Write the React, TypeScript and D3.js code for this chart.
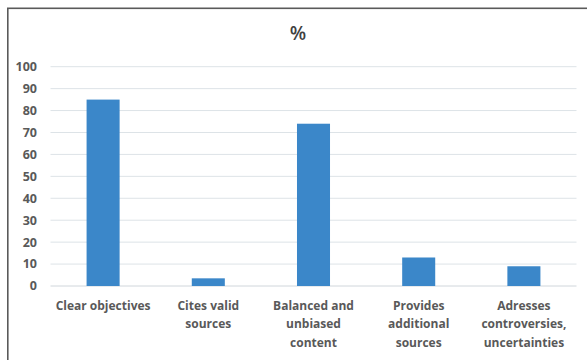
import React from "react";
import * as d3 from "d3";

const categories: string[][] = [
  ["Clear objectives"],
  ["Cites valid", "sources"],
  ["Balanced and", "unbiased", "content"],
  ["Provides", "additional", "sources"],
  ["Adresses", "controversies,", "uncertainties"],
];
const values: number[] = [85, 3.5, 74, 13, 9];
const yTicks: number[] = [0, 10, 20, 30, 40, 50, 60, 70, 80, 90, 100];
const title = "%";

const W = 587;
const H = 360;
const left = 50.5;
const right = 576.5;
const top = 66.7;
const bottom = 286;
const font = "'Open Sans', 'Liberation Sans', sans-serif";
const textColor = "#595959";

export default function App() {
  const x = d3
    .scaleBand<number>()
    .domain(values.map((_, i) => i))
    .range([left, right])
    .paddingInner(0.686)
    .paddingOuter(0.343);
  const y = d3.scaleLinear().domain([0, 100]).range([bottom, top]);

  return (
    <svg
      width={W}
      height={H}
      style={{ position: "absolute", left: 0, top: 0, background: "#fff" }}
    >
      <rect x={0} y={0} width={W} height={H} fill="#fff" />
      <rect
        x={7.8}
        y={8.3}
        width={W + 10}
        height={H + 10}
        fill="none"
        stroke="#5a5a5a"
        strokeWidth={1.6}
      />
      <text
        x={298}
        y={40}
        textAnchor="middle"
        fontFamily={font}
        fontSize={19}
        fontWeight={600}
        fill="#404040"
      >
        {title}
      </text>
      {yTicks.map((t) => (
        <g key={t}>
          <line
            x1={left}
            x2={right}
            y1={y(t)}
            y2={y(t)}
            stroke={t === 0 ? "#d0d6db" : "#dde3e7"}
            strokeWidth={1}
          />
          <text
            x={37}
            y={y(t)}
            dy="0.35em"
            textAnchor="end"
            fontFamily={font}
            fontSize={12.5}
            fontWeight={700}
            fill={textColor}
          >
            {t}
          </text>
        </g>
      ))}
      {values.map((v, i) => (
        <rect
          key={i}
          x={x(i)}
          y={y(v)}
          width={x.bandwidth()}
          height={y(0) - y(v)}
          fill="#3b87c9"
        />
      ))}
      {categories.map((lines, i) => (
        <text
          key={i}
          x={(x(i) as number) + x.bandwidth() / 2}
          y={310}
          textAnchor="middle"
          fontFamily={font}
          fontSize={12}
          fontWeight={700}
          fill={textColor}
        >
          {lines.map((l, j) => (
            <tspan key={j} x={(x(i) as number) + x.bandwidth() / 2} dy={j === 0 ? 0 : 18.4}>
              {l}
            </tspan>
          ))}
        </text>
      ))}
    </svg>
  );
}
